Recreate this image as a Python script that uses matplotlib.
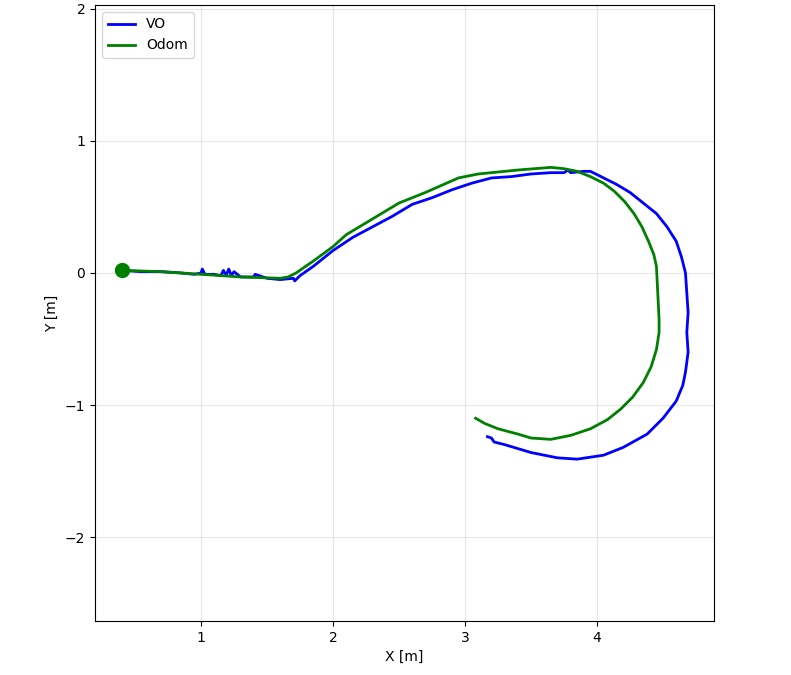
import matplotlib
matplotlib.use("Agg")
import matplotlib.pyplot as plt

vo_x = [0.40, 0.55, 0.70, 0.85, 0.95, 1.00, 1.01, 1.03, 1.10, 1.15, 1.17, 1.19, 1.21, 1.23, 1.25, 1.30, 1.40, 1.41, 1.50, 1.60, 1.70, 1.71, 1.75, 1.85, 2.00, 2.15, 2.30, 2.45, 2.60, 2.75, 2.90, 3.05, 3.20, 3.35, 3.50, 3.65, 3.75, 3.78, 3.80, 3.90, 3.95, 4.05, 4.15, 4.25, 4.35, 4.45, 4.53, 4.60, 4.64, 4.67, 4.68, 4.69, 4.68, 4.69, 4.67, 4.65, 4.60, 4.50, 4.38, 4.20, 4.05, 3.85, 3.70, 3.50, 3.40, 3.30, 3.22, 3.20, 3.17]
vo_y = [0.02, 0.01, 0.01, 0.00, -0.01, 0.00, 0.03, -0.01, -0.01, -0.02, 0.02, -0.02, 0.03, -0.02, 0.01, -0.03, -0.03, -0.01, -0.04, -0.05, -0.04, -0.06, -0.02, 0.05, 0.17, 0.27, 0.35, 0.43, 0.52, 0.57, 0.63, 0.68, 0.72, 0.73, 0.75, 0.76, 0.76, 0.78, 0.76, 0.77, 0.77, 0.72, 0.67, 0.61, 0.53, 0.45, 0.35, 0.24, 0.12, 0.00, -0.15, -0.30, -0.45, -0.60, -0.75, -0.85, -0.97, -1.10, -1.22, -1.32, -1.38, -1.41, -1.40, -1.36, -1.33, -1.30, -1.28, -1.25, -1.24]

odom_x = [0.40, 0.70, 1.00, 1.30, 1.60, 1.66, 1.72, 1.85, 2.00, 2.10, 2.30, 2.50, 2.70, 2.95, 3.10, 3.20, 3.40, 3.65, 3.75, 3.85, 3.95, 4.05, 4.13, 4.21, 4.28, 4.34, 4.39, 4.43, 4.45, 4.46, 4.47, 4.47, 4.45, 4.41, 4.35, 4.27, 4.18, 4.08, 3.95, 3.80, 3.65, 3.50, 3.40, 3.25, 3.15, 3.08]
odom_y = [0.02, 0.01, -0.01, -0.03, -0.04, -0.03, 0.00, 0.09, 0.20, 0.29, 0.41, 0.53, 0.61, 0.72, 0.75, 0.76, 0.78, 0.80, 0.79, 0.77, 0.73, 0.68, 0.62, 0.54, 0.45, 0.35, 0.24, 0.14, 0.05, -0.15, -0.35, -0.45, -0.58, -0.71, -0.83, -0.94, -1.03, -1.11, -1.18, -1.23, -1.26, -1.25, -1.22, -1.18, -1.14, -1.10]

fig = plt.figure(figsize=(7.91, 6.75), dpi=100)
ax = fig.add_axes([95/791, 1-621/675, 619/791, 616/675])
ax.plot(vo_x, vo_y, color="blue", lw=2, label="VO")
ax.plot(odom_x, odom_y, color="green", lw=2, label="Odom")
ax.plot(odom_x[0], odom_y[0], "o", color="green", ms=10)
ax.set_xlim(0.197, 4.886)
ax.set_ylim(-2.636, 2.03)
ax.set_xticks([1, 2, 3, 4])
ax.set_yticks([-2, -1, 0, 1, 2])
ax.set_xlabel("X [m]")
ax.set_ylabel("Y [m]")
ax.grid(True, alpha=0.3)
ax.legend(loc="upper left")
fig.savefig("out.png", dpi=100)
